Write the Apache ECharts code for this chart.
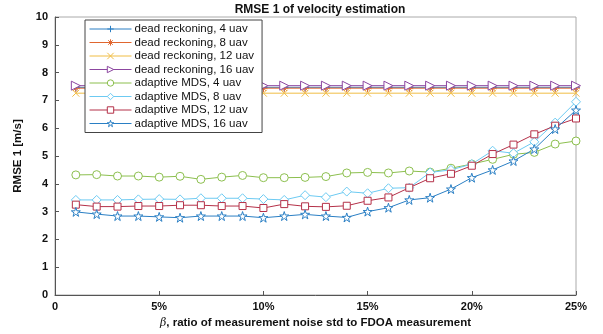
<!DOCTYPE html>
<html>
<head>
<meta charset="utf-8">
<script src="https://cdn.jsdelivr.net/npm/echarts@6/dist/echarts.min.js"></script>
<style>html,body{margin:0;padding:0;background:#fff}#c{width:603px;height:334px}</style>
</head>
<body>
<div id="c"></div>
<script>
const xValues = [1,2,3,4,5,6,7,8,9,10,11,12,13,14,15,16,17,18,19,20,21,22,23,24,25];
const xTicks = [0,5,10,15,20,25];
const drUav4  = [7.47,7.47,7.47,7.47,7.47,7.47,7.47,7.47,7.47,7.47,7.47,7.47,7.47,7.47,7.47,7.47,7.47,7.47,7.47,7.47,7.47,7.47,7.47,7.47,7.47];
const drUav8  = [7.44,7.44,7.44,7.44,7.44,7.44,7.44,7.44,7.44,7.44,7.44,7.44,7.44,7.44,7.44,7.44,7.44,7.44,7.44,7.44,7.44,7.44,7.44,7.44,7.44];
const drUav12 = [7.26,7.26,7.26,7.26,7.26,7.26,7.26,7.26,7.26,7.26,7.26,7.26,7.26,7.26,7.26,7.26,7.26,7.26,7.26,7.26,7.26,7.26,7.26,7.26,7.26];
const drUav16 = [7.53,7.53,7.53,7.53,7.53,7.53,7.53,7.53,7.53,7.53,7.53,7.53,7.53,7.53,7.53,7.53,7.53,7.53,7.53,7.53,7.53,7.53,7.53,7.53,7.53];
const mdsUav4  = [4.32,4.33,4.28,4.28,4.24,4.27,4.16,4.24,4.30,4.22,4.22,4.23,4.26,4.39,4.41,4.39,4.46,4.42,4.56,4.71,4.88,5.06,5.13,5.43,5.54];
const mdsUav8  = [3.42,3.42,3.42,3.44,3.45,3.44,3.48,3.48,3.48,3.45,3.42,3.59,3.52,3.72,3.66,3.84,3.86,4.41,4.50,4.71,5.19,5.10,5.51,6.20,6.95];
const mdsUav12 = [3.25,3.18,3.18,3.20,3.20,3.23,3.23,3.20,3.20,3.13,3.27,3.19,3.17,3.21,3.39,3.51,3.86,4.20,4.36,4.65,5.07,5.41,5.78,6.09,6.35];
const mdsUav16 = [2.99,2.91,2.84,2.84,2.81,2.78,2.84,2.84,2.84,2.78,2.84,2.90,2.84,2.79,3.00,3.14,3.42,3.50,3.81,4.22,4.50,4.82,5.25,5.97,6.65];
const seriesNames = ['dead reckoning, 4 uav','dead reckoning, 8 uav','dead reckoning, 12 uav','dead reckoning, 16 uav',
  'adaptive MDS, 4 uav','adaptive MDS, 8 uav','adaptive MDS, 12 uav','adaptive MDS, 16 uav'];
const seriesData = [drUav4, drUav8, drUav12, drUav16, mdsUav4, mdsUav8, mdsUav12, mdsUav16];

const colors = ['#2a7fc4','#e0662f','#f0bd45','#8c46a0','#8cbf4e','#6ccaf2','#b43048','#2a7fc4'];
const symbols = [
  'path://M0,5L10,5M5,0L5,10',
  'path://M0,5L10,5M5,0L5,10M1.5,1.5L8.5,8.5M1.5,8.5L8.5,1.5',
  'path://M0,0L10,10M0,10L10,0',
  'path://M0,0L10,5L0,10Z',
  'circle',
  'path://M5,0L10,5L5,10L0,5Z',
  'rect',
  'path://M5,0L6.123,3.455L9.755,3.455L6.816,5.59L7.939,9.045L5,6.91L2.061,9.045L3.184,5.59L0.245,3.455L3.877,3.455Z'
];
const sizes = [8,8,7,9,8,9,7,9];
const FONT = 'Liberation Sans, Arial, sans-serif';

const series = seriesNames.map((n,i)=>({
  name: n,
  type: 'line',
  data: xValues.map((x,j)=>[x, seriesData[i][j]]),
  symbol: symbols[i],
  symbolSize: sizes[i],
  showAllSymbol: true,
  lineStyle: {color: colors[i], width: 1},
  itemStyle: {color: '#fff', borderColor: colors[i], borderWidth: 1},
  emphasis: {disabled: true},
  animation: false
}));

const chart = echarts.init(document.getElementById('c'), null, {renderer: 'canvas'});
chart.setOption({
  animation: false,
  title: {
    text: 'RMSE 1 of velocity estimation',
    left: 315, top: -1, textAlign: 'center',
    textStyle: {fontFamily: FONT, fontSize: 12, fontWeight: 'bold', color: '#111'}
  },
  grid: {left: 55, right: 27, top: 17, bottom: 39, show: true, borderColor: '#aaa', borderWidth: 1},
  legend: {
    orient: 'vertical', left: 85, top: 20,
    itemWidth: 42, itemHeight: 8, itemGap: 1.5,
    padding: [3, 8, 3, 4],
    borderColor: '#444', borderWidth: 1, backgroundColor: '#fff',
    lineStyle: {width: 1},
    itemStyle: {borderWidth: 1},
    textStyle: {fontFamily: FONT, fontSize: 11.5, color: '#111', padding: [0,0,0,-2]},
    data: seriesNames
  },
  xAxis: {
    type: 'value', min: 0, max: 25, interval: 5,
    name: '{b|β}, ratio of measurement noise std to FDOA measurement',
    nameLocation: 'middle', nameGap: 22,
    nameTextStyle: {fontFamily: FONT, fontSize: 11.5, fontWeight: 'bold', color: '#111',
      rich: {b: {fontFamily: 'DejaVu Serif, serif', fontStyle: 'italic', fontSize: 11, fontWeight: 'normal', color: '#111'}}},
    axisLine: {lineStyle: {color: '#555', width: 1}},
    axisTick: {inside: true, length: 4, lineStyle: {color: '#555'}},
    axisLabel: {margin: 6, fontFamily: FONT, fontSize: 11, fontWeight: 'bold', color: '#111',
      formatter: v => v === 0 ? '0' : v + '%'},
    splitLine: {show: false}
  },
  yAxis: {
    type: 'value', min: 0, max: 10, interval: 1,
    name: 'RMSE 1 [m/s]', nameLocation: 'middle', nameGap: 31,
    nameTextStyle: {fontFamily: FONT, fontSize: 11.5, fontWeight: 'bold', color: '#111'},
    axisLine: {show: true, lineStyle: {color: '#555', width: 1}},
    axisTick: {show: true, inside: true, length: 4, lineStyle: {color: '#555'}},
    axisLabel: {margin: 7, fontFamily: FONT, fontSize: 11, fontWeight: 'bold', color: '#111'},
    splitLine: {show: false}
  },
  series: series
});
</script>
</body>
</html>
